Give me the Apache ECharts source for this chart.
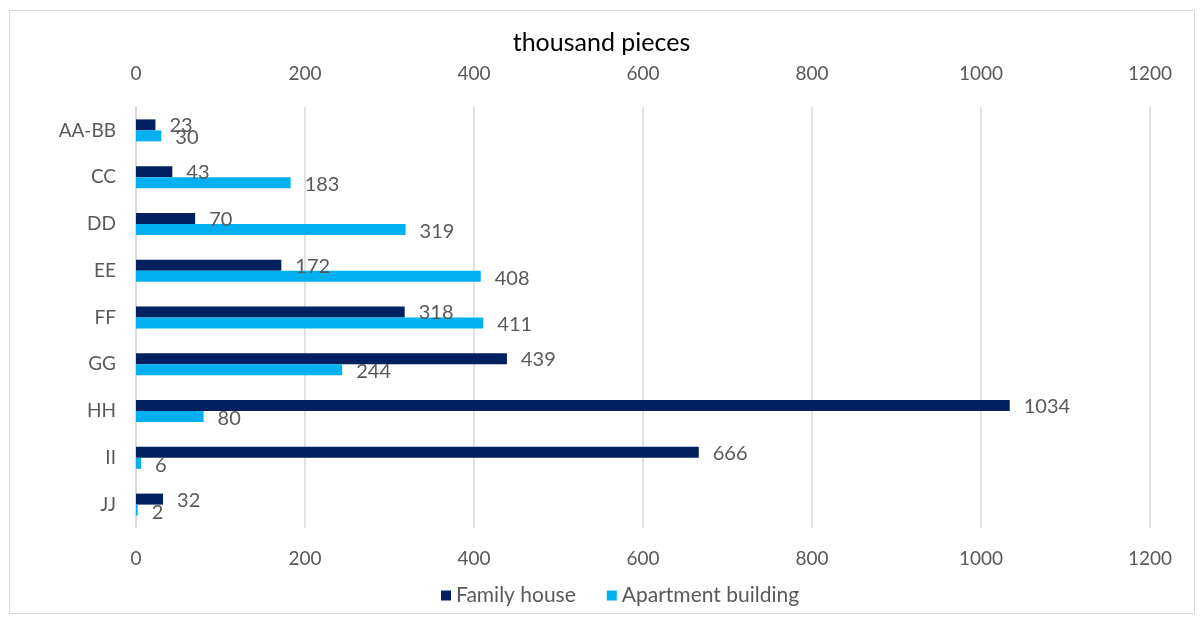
<!DOCTYPE html>
<html>
<head>
<meta charset="utf-8">
<script src="https://cdn.jsdelivr.net/npm/echarts@6/dist/echarts.min.js"></script>
<style>
  html, body { margin: 0; padding: 0; background: #fff; }
  #frame { position: absolute; left: 9px; top: 10px; width: 1186px; height: 604px; border: 1px solid #d9d9d9; box-sizing: border-box; }
  #chart { position: absolute; left: 0; top: 0; width: 1203px; height: 623px; }
</style>
</head>
<body>
<div id="frame"></div>
<div id="chart"></div>
<script>
// Regions and the two dwelling types, in thousand pieces
const categories = ['AA-BB', 'CC', 'DD', 'EE', 'FF', 'GG', 'HH', 'II', 'JJ'];
const familyHouse = [23, 43, 70, 172, 318, 439, 1034, 666, 32];
const apartmentBuilding = [30, 183, 319, 408, 411, 244, 80, 6, 2];
const seriesNames = ['Family house', 'Apartment building'];
const axisTicks = { min: 0, max: 1200, interval: 200 };

const FONT = 'Lato, "Open Sans", sans-serif';
const TEXT = '#595959';

const chart = echarts.init(document.getElementById('chart'), null, { renderer: 'canvas' });

const valueAxis = (position, show) => ({
  type: 'value',
  position: position,
  min: axisTicks.min,
  max: axisTicks.max,
  interval: axisTicks.interval,
  axisLine: { show: false },
  axisTick: { show: false },
  splitLine: { show: show, lineStyle: { color: '#d9d9d9', width: 1.5 } },
  axisLabel: {
    color: TEXT, fontFamily: FONT, fontSize: 19,
    margin: position === 'top' ? 24 : 21,
    formatter: v => String(v)
  }
});

const label = {
  show: true,
  position: 'right',
  distance: 14,
  color: TEXT,
  fontFamily: FONT,
  fontSize: 20
};

chart.setOption({
  animation: false,
  title: {
    text: 'thousand pieces',
    left: 'center',
    top: 25,
    textStyle: { color: '#000', fontFamily: FONT, fontSize: 25, fontWeight: 'normal' }
  },
  legend: {
    bottom: 12,
    left: 436,
    itemWidth: 10,
    itemHeight: 10,
    itemGap: 31,
    icon: 'rect',
    textStyle: { color: TEXT, fontFamily: FONT, fontSize: 21 },
    data: seriesNames
  },
  grid: { left: 136, right: 53, top: 107, bottom: 95 },
  xAxis: [valueAxis('top', true), valueAxis('bottom', false)],
  yAxis: {
    type: 'category',
    data: categories,
    inverse: true,
    axisLine: { show: true, lineStyle: { color: '#d9d9d9', width: 1.5 } },
    axisTick: { show: false },
    axisLabel: { color: TEXT, fontFamily: FONT, fontSize: 19, margin: 20 }
  },
  series: [
    {
      name: seriesNames[0],
      type: 'bar',
      xAxisIndex: 0,
      data: familyHouse,
      barWidth: 11,
      barGap: '0%',
      itemStyle: { color: '#002060' },
      label: Object.assign({}, label, { offset: [0, 1] })
    },
    {
      name: seriesNames[1],
      type: 'bar',
      xAxisIndex: 0,
      data: apartmentBuilding,
      barWidth: 11,
      barGap: '0%',
      itemStyle: { color: '#00b0f0' },
      label: Object.assign({}, label, { offset: [0, 2] })
    }
  ]
});
</script>
</body>
</html>
